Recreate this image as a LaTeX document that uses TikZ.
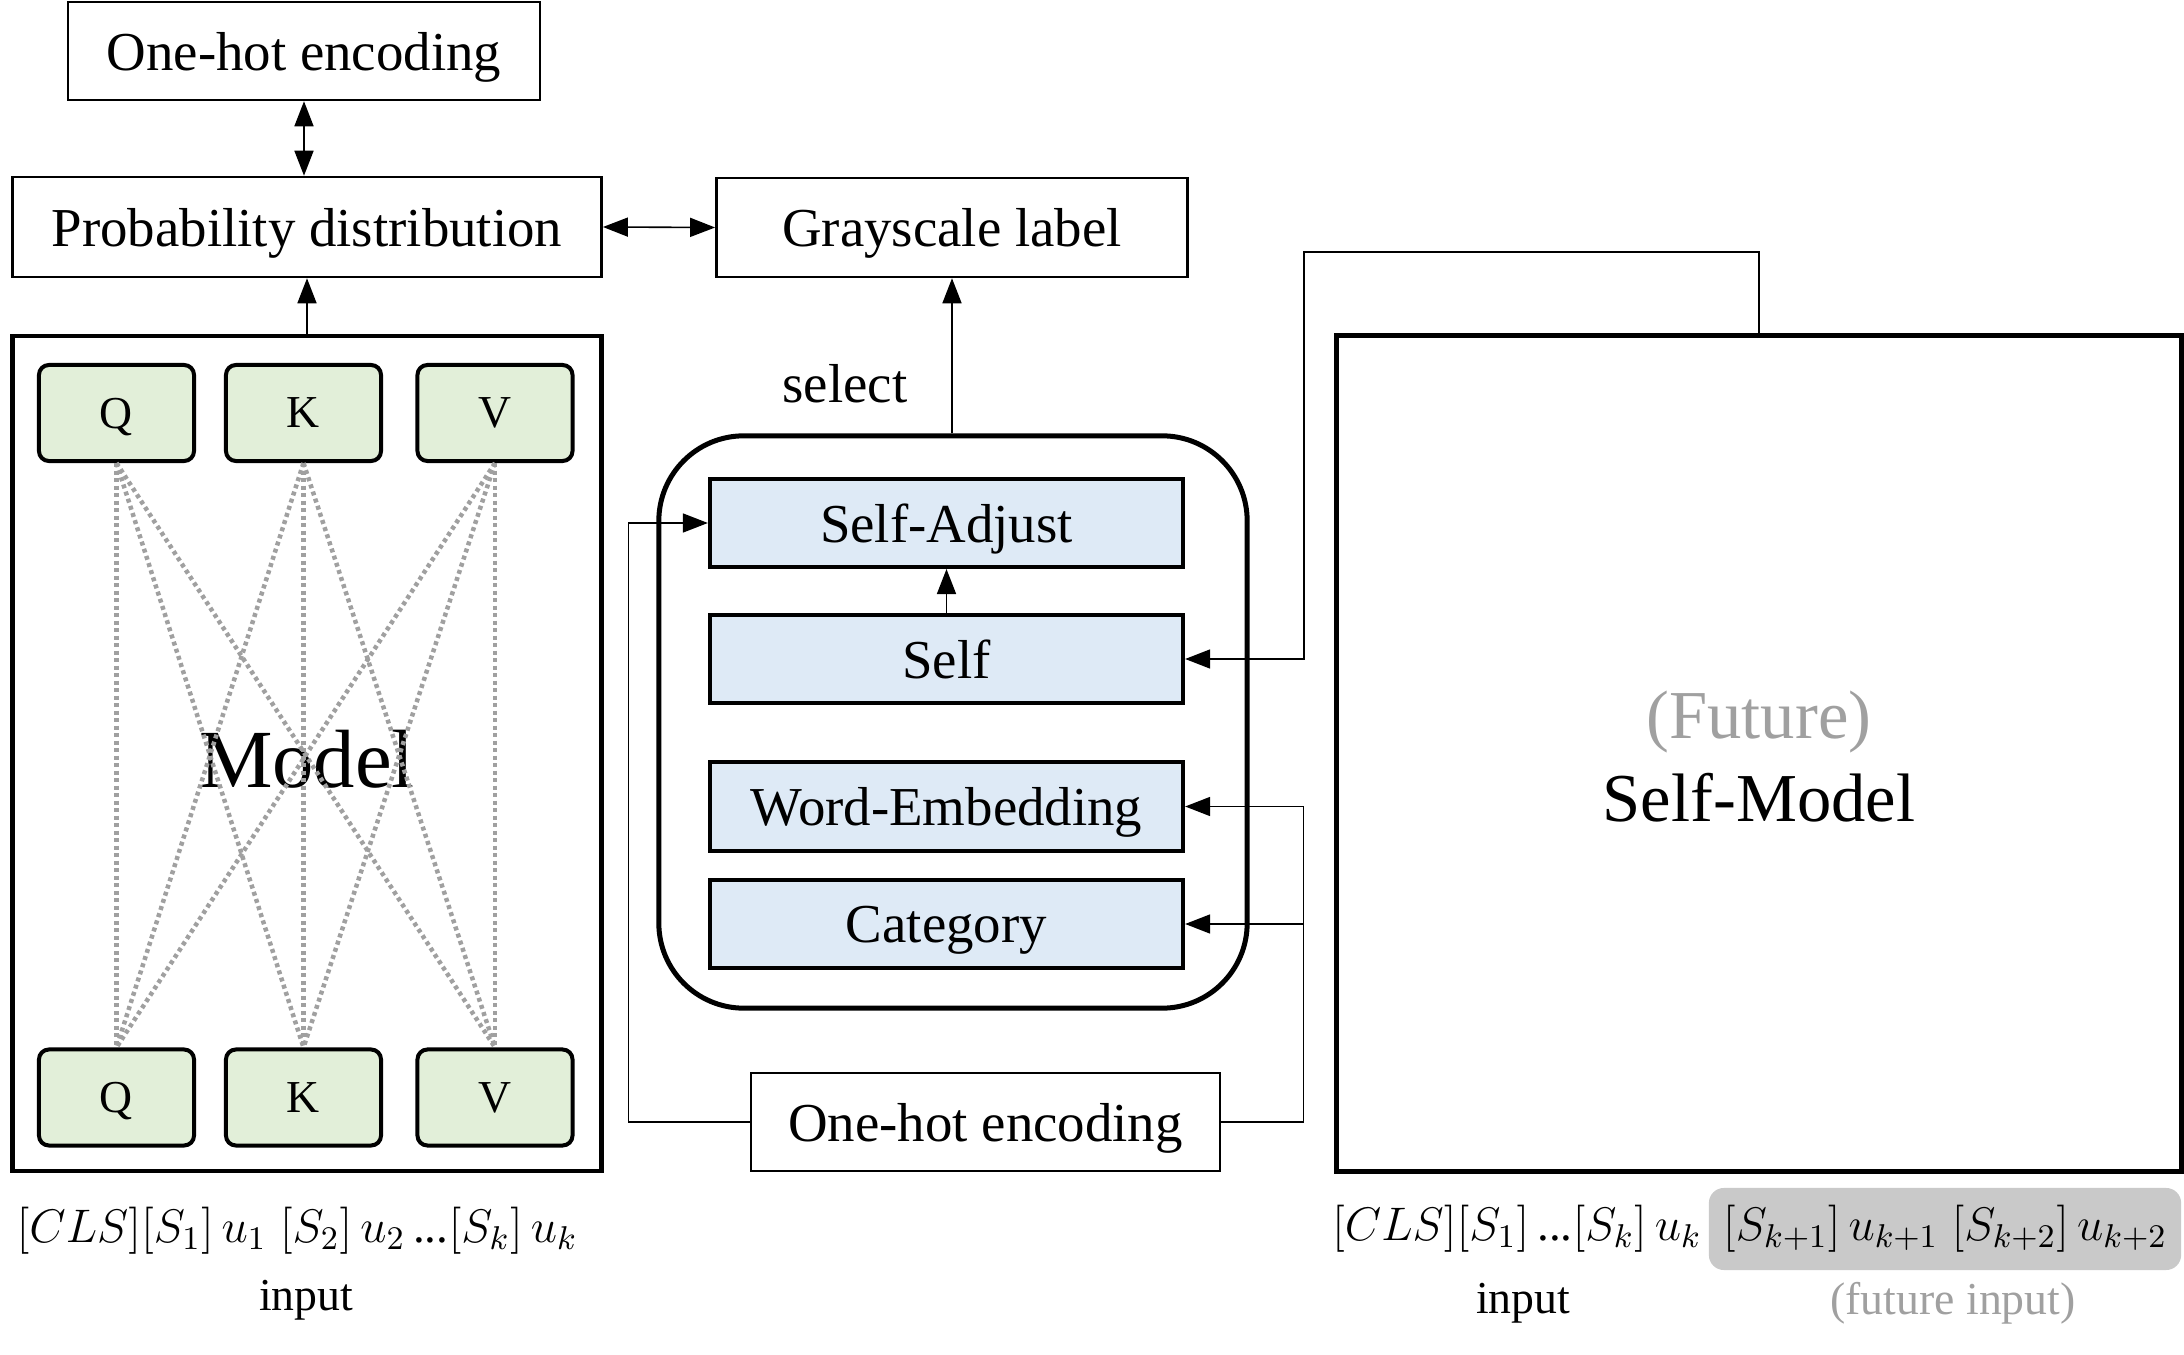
\documentclass[tikz,border=0pt]{standalone}
\usepackage{fix-cm}
\usepackage{fontspec}
\setmainfont{Liberation Serif}
\usetikzlibrary{arrows.meta,calc}
\definecolor{qkvgreen}{HTML}{E2EFD9}
\definecolor{modblue}{HTML}{DEEAF6}
\definecolor{dotgray}{HTML}{A0A0A0}
\definecolor{hlgray}{HTML}{C9C9C9}
\definecolor{futgray}{HTML}{A0A0A0}
\newcommand{\fsz}[1]{\fontsize{#1}{#1}\selectfont}
\newcommand{\tdots}{\textrm{...}}
\begin{document}
\begin{tikzpicture}[x=0.01cm,y=-0.01cm,
  >={Triangle[length=0.25cm,width=0.19cm]},
  plainbox/.style={draw,line width=0.025cm,inner sep=0pt,font=\fsz{15.6},text depth=0pt},
  bigbox/.style={draw,line width=0.045cm,inner sep=0pt},
  qkv/.style={draw,line width=0.04cm,fill=qkvgreen,rounded corners=0.1cm,inner sep=0pt,
    minimum width=1.55cm,minimum height=0.96cm,font=\fsz{13},text depth=0pt},
  modbox/.style={draw,line width=0.04cm,fill=modblue,inner sep=0pt,
    minimum width=4.73cm,minimum height=0.88cm,font=\fsz{15.6},text depth=0pt},
  conn/.style={line width=0.016cm},
  attn/.style={dotgray,line width=0.045cm,dash pattern=on 0.04cm off 0.035cm},
  lbl/.style={inner sep=0pt,font=\fsz{15.6}},
  small/.style={inner sep=0pt,font=\fsz{13}},
  formula/.style={inner sep=0pt,font=\fsz{13.4}}]
\useasboundingbox (0,0) rectangle (2184,1355);

% top-left boxes
\node[plainbox,minimum width=4.72cm,minimum height=0.98cm] (oh1) at (304,51) {One-hot encoding};
\node[plainbox,minimum width=5.89cm,minimum height=1.0cm] (prob) at (307,227) {Probability distribution};
\node[plainbox,minimum width=4.71cm,minimum height=0.99cm] (gray) at (952,227.5) {Grayscale label};

% Model box
\node[bigbox,minimum width=5.89cm,minimum height=8.35cm] (model) at (307,753.5) {};
\node[inner sep=0pt,font=\fsz{23.5}] (mtxt) at (307,759) {Model};
\node[qkv] (q1) at (116.5,413) {Q};
\node[qkv] (k1) at (303.5,413) {K};
\node[qkv] (v1) at (495,413) {V};
\node[qkv] (q2) at (116.5,1097.5) {Q};
\node[qkv] (k2) at (303.5,1097.5) {K};
\node[qkv] (v2) at (495,1097.5) {V};
\foreach \a in {q1,k1,v1}{
  \foreach \b in {q2,k2,v2}{
    \draw[attn] (\a.south) -- (\b.north);
  }
}

% connectors top-left
\draw[conn,<->] (oh1.south) -- (oh1.south |- prob.north);
\draw[conn,<->] (prob.east) -- (gray.west);
\draw[conn,->] (model.north) -- (prob.south);

% selection box
\node[draw,line width=0.05cm,rounded corners=0.85cm,minimum width=5.88cm,minimum height=5.72cm,inner sep=0pt] (sel) at (953,722) {};
\node[modbox] (adj) at (946.5,523) {Self-Adjust};
\node[modbox] (self) at (946.5,659) {Self};
\node[modbox] (we) at (946.5,806.5) {Word-Embedding};
\node[modbox] (cat) at (946.5,924) {Category};
\node[lbl] (sellbl) at (845,384) {select};
\draw[conn,->] (sel.north -| gray.south) -- (gray.south);
\draw[conn,->] (self.north) -- (adj.south);

% bottom one-hot
\node[plainbox,minimum width=4.69cm,minimum height=0.98cm] (oh2) at (985.5,1122) {One-hot encoding};
\draw[conn,->] (oh2.west) -- ++(-121,0) |- (adj.west);
\draw[conn,->] (oh2.east) -- ++(82,0) coordinate (j) |- (we.east);
\draw[conn,->] (j |- cat.east) -- (cat.east);

% Self-Model
\node[draw,line width=0.05cm,minimum width=8.44cm,minimum height=8.35cm,inner sep=0pt] (sm) at (1759,753.5) {};
\node[inner sep=0pt,font=\fsz{19.5},text=futgray] (fut) at (1759,722) {(Future)};
\node[inner sep=0pt,font=\fsz{19.5}] (smtxt) at (1759,798) {Self-Model};
\draw[conn,->] (sm.north) -- ++(0,-81) -| ($(self.east)+(119,0)$) -- (self.east);

% inputs
\node[formula] (in1) at (297,1231) {$[CLS][S_1]\,u_1\;[S_2]\,u_2\,\tdots[S_k]\,u_k$};
\node[small] (inlbl1) at (306,1300) {input};
\node[fill=hlgray,rounded corners=0.15cm,minimum width=4.72cm,minimum height=0.82cm,inner sep=0pt,font=\fsz{13.4}] (futin) at (1945,1229) {$[S_{k+1}]\,u_{k+1}\;[S_{k+2}]\,u_{k+2}$};
\node[formula,anchor=base east] (in2) at ($(futin.base west)+(-6,0)$) {$[CLS][S_1]\,\tdots[S_k]\,u_k$};
\node[small] (inlbl2) at (1523,1303) {input};
\node[small,text=futgray] (futlbl) at (1953,1303) {(future input)};
\end{tikzpicture}
\end{document}
